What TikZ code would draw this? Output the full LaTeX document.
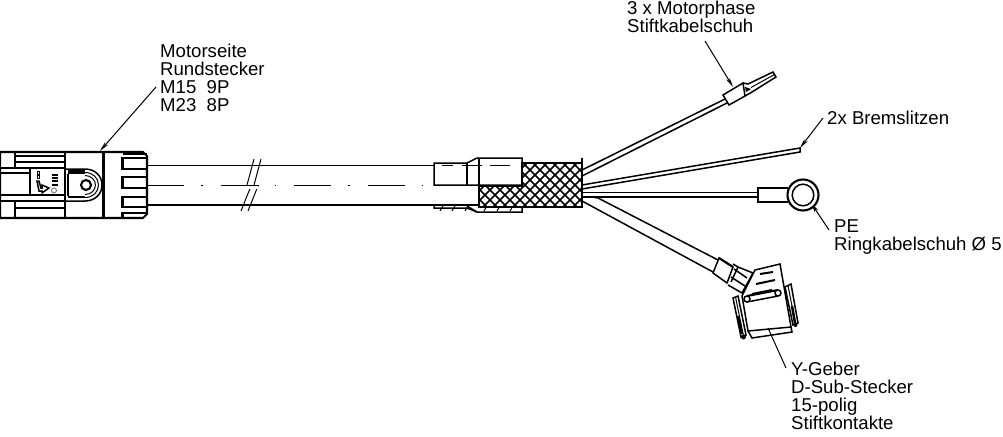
\documentclass[tikz,border=0pt]{standalone}
\usepackage{fontspec}
\usepackage{xcolor}
\usepackage{tikz}
\usetikzlibrary{arrows.meta}
\setmainfont{Liberation Sans}
\tikzset{
    label text/.style={anchor=north west, inner sep=0pt, align=left, font=\fontsize{18.6}{18}\selectfont},
    leader/.style={line width=1pt, -{Stealth[length=10pt,width=4pt]}},
    thin part/.style={line width=1pt},
    main part/.style={line width=1.5pt},
    heavy part/.style={line width=2.1pt},
}

\begin{document}
\begin{tikzpicture}[x=1pt, y=-1pt]
    \useasboundingbox (0, 0) rectangle (1003, 436);
    % labels
    \node [label text] (lblPhase) at (627, 1) {3 x Motorphase\\Stiftkabelschuh};
    \node [label text] (lblMotor) at (160, 43.5) {Motorseite\\Rundstecker\\M15\ \ 9P\\M23\ \ 8P};
    \node [label text] (lblBrake) at (827, 111) {2x Bremslitzen};
    \node [label text] (lblPE) at (834, 220) {PE\\Ringkabelschuh Ø 5};
    \node [label text] (lblGeber) at (791, 362) {Y-Geber\\D-Sub-Stecker\\15-polig\\Stiftkontakte};
    % leader ends
    \coordinate (fromMotor) at (156, 87);
    \coordinate (toMotor) at (100, 151);
    \coordinate (fromPhase) at (705, 41);
    \coordinate (toPhase) at (733, 87);
    \coordinate (fromBrake) at (823, 118);
    \coordinate (toBrake) at (800, 148);
    \coordinate (fromPE) at (829, 230);
    \coordinate (toPE) at (811, 203);
    \coordinate (toGeber) at (768, 328);
    \coordinate (fromGeber) at (786, 368);
    \draw [leader] (fromMotor) -- (toMotor);
    \draw [leader] (fromPhase) -- (toPhase);
    \draw [leader] (fromBrake) -- (toBrake);
    \draw [leader] (fromPE) -- (toPE);
    \draw [thin part] (fromGeber) -- (toGeber);
    % round plug
    \draw [heavy part] (0, 152) -- (143, 152) -- (147, 156) -- (147, 214) -- (143, 218) -- (0, 218) -- cycle;
    \draw [main part] (15, 152) -- (15, 168) (15, 201) -- (15, 218);
    \draw [main part] (65, 152) -- (65, 218);
    \draw [thin part] (102, 152) -- (102, 218);
    \draw [heavy part] (104, 152) -- (104, 218);
    \foreach \y in {156, 162, 208}
        \draw [main part] (15, \y) -- (65, \y);
    \foreach \y in {168, 195, 201}
        \draw [main part] (0, \y) -- (65, \y);
    \draw [main part] (0, 173) -- (30, 173);
    \draw [main part] (30, 168) -- (30, 195);
    % plug marking
    \draw [main part] (37, 181) -- (39, 191) -- (42, 191) -- (42, 193) -- (49, 188) -- (42, 185) -- (42, 188) -- (41, 188) -- (39, 181) -- cycle;
    \foreach \y in {171, 175.5}
        \draw [thin part] (37, \y) rectangle (39.5, \y + 3);
    \foreach \y in {175, 178, 181, 185}
        \draw [line width=2pt] (52, \y) -- (58, \y);
    \draw [gray, thin part] (54, 190.5) circle [radius=2.5];
    % latch
    \draw [main part] (66, 169) -- (85, 169) .. controls (95, 169) and (102, 176) .. (102, 185) .. controls (102, 194) and (95, 201) .. (85, 201) -- (66, 201);
    \draw [thin part] (85, 172.5) .. controls (93, 172.5) and (98.5, 178) .. (98.5, 185) .. controls (98.5, 192) and (93, 197.5) .. (85, 197.5);
    \draw [thin part] (85, 175.5) .. controls (91, 175.5) and (95.5, 180) .. (95.5, 185) .. controls (95.5, 190) and (91, 194.5) .. (85, 194.5);
    \draw [line width=3.5pt] (68, 172) -- (85, 172);
    \draw [line width=2.5pt] (68, 197) -- (85, 197);
    \draw [main part] (68, 174) -- (68, 196);
    \draw [heavy part] (86, 185) circle [radius=5];
    % fluted ring
    \foreach \ya/\yb in {158/169, 177/188, 197/207}
        \draw [heavy part] (147, \ya) -- (122.5, \ya) -- (122.5, \yb) -- (147, \yb);
    \draw [heavy part] (122.5, 154) -- (147, 154);
    \draw [heavy part] (147, 213) -- (122.5, 213) -- (122.5, 217);
    % cable
    \draw [main part] (147, 165.5) -- (434, 165.5);
    \draw [heavy part] (147, 205) -- (479, 205);
    \draw [thin part, dash pattern=on 37pt off 17pt on 1.5pt off 18pt] (147, 185) -- (434, 185);
    \foreach \x in {247, 254}
        \draw [thin part] (\x, 185) -- (\x + 7, 159);
    \foreach \x in {251, 258}
        \draw [thin part] (\x, 186) -- (\x - 10, 211);
    \draw [white, line width=3pt] (248, 187) -- (258, 187);
    \draw [thin part] (247, 185) -- (259, 185);
    % sleeve
    \draw [main part] (434, 163) -- (467, 163) -- (477, 158) -- (522, 158) -- (522, 185) -- (434, 185) -- cycle;
    \draw [main part] (467, 163) -- (467, 185);
    \draw [main part] (479, 158) -- (479, 186);
    \foreach \xa/\xb in {442/453, 462/482, 490/510}
        \draw [main part] (\xa, 165.5) -- (\xb, 165.5);
    \draw [main part] (434, 206) -- (434, 208) -- (467, 208) -- (477, 212) -- (522, 212) -- (522, 207);
    \draw [main part] (467, 206) -- (477, 212);
    \foreach \x in {440, 452, 465, 484, 497, 510}
        \draw [thin part] (\x, 211) -- (\x + 3, 206);
    % braid
    \begin{scope}
        \clip (479, 186) -- (522, 186) -- (522, 163) -- (582, 163) -- (582, 207) -- (479, 207) -- cycle;
        \foreach \x in {430, 440, ..., 640} {
            \draw [line width=1.7pt] (\x, 150) -- (\x + 70, 220);
            \draw [line width=1.7pt] (\x, 150) -- (\x - 70, 220);
        }
    \end{scope}
    \draw [heavy part] (479, 186) -- (522, 186) -- (522, 163) -- (582, 163) -- (582, 207) -- (479, 207) -- cycle;
    \draw [main part] (582, 158) -- (582, 207);
    % motor phase wire
    \draw [main part] (582, 170) -- (725, 99) (582, 176) -- (727, 103);
    \draw [main part] (723, 95) -- (743, 83) -- (745, 96) -- (729, 105) -- cycle;
    \draw [main part] (743, 83) -- (748, 84) -- (773, 72) -- (776, 77) -- (752, 92) -- (745, 96);
    \draw [thin part] (751, 87.5) -- (774.5, 74.5);
    \fill (745, 87) -- (751, 89) -- (746, 92) -- cycle;
    % brake wire
    \draw [main part] (582, 185) -- (800, 148) -- (800, 152) -- (582, 189);
    % PE wire
    \draw [main part] (582, 192.5) -- (758, 192.5) (582, 197) -- (758, 197);
    \draw [heavy part] (788, 188) -- (758, 188) -- (758, 202) -- (788, 202);
    \draw [fill=white, heavy part] (803, 195) circle [radius=15.5];
    \draw [main part] (803, 195) circle [radius=10.8];
    % encoder wire
    \draw [main part] (582, 201) -- (713, 272) (598, 198) -- (718, 260);
    \draw [main part] (592, 197) -- (598, 198);
    \draw [main part] (719, 258) -- (733, 267) -- (727, 283) -- (713, 273) -- cycle;
    \draw [heavy part] (719, 258) -- (733, 267);
    \draw [main part] (733, 264) -- (738, 267) -- (753, 273) -- (742, 293) -- (728, 285);
    \draw [main part] (734, 269) -- (747, 278) (731, 277) -- (745, 286) (738, 267) -- (731, 282);
    % D-Sub
    \draw [main part] (755, 270) -- (780, 264) -- (791, 327) -- (748, 331) -- (742, 296) -- cycle;
    \draw [main part] (748, 331) -- (752, 338) -- (792, 332) -- (791, 327);
    \draw [line width=2pt] (760, 274) -- (773, 272) (756, 284) -- (775, 280) (752, 294) -- (772, 290);
    \draw [heavy part] (747, 296) -- (778, 290);
    \draw [main part] (747, 302) -- (778, 296);
    \foreach \x/\y in {747/299, 778/293}
        \draw [fill=white, main part] (\x, \y) circle [radius=3];
    \draw [main part] (733, 298) -- (738, 296) -- (746, 335) -- (741, 337) -- cycle;
    \draw [main part] (785, 287) -- (791, 284) -- (798, 323) -- (793, 325) -- cycle;
    \draw [thin part] (735.5, 297) -- (743.5, 336) (788, 285.5) -- (795.5, 324);
    \draw [line width=2.5pt] (738, 316) -- (742, 334) (792, 306) -- (795, 323);
    \fill (743.5, 337) circle [radius=2.5];
    \fill (795.5, 325) circle [radius=2];
\end{tikzpicture}
\end{document}
